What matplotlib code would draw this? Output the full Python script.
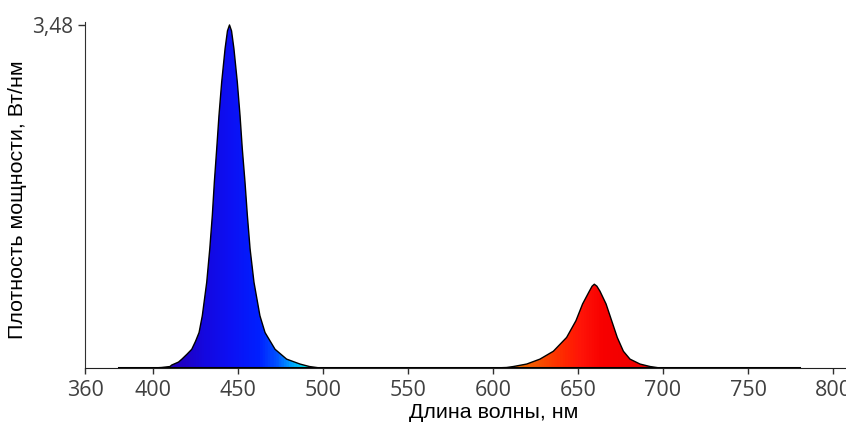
import numpy as np
import matplotlib
matplotlib.use("Agg")
import matplotlib.pyplot as plt
from matplotlib.colors import LinearSegmentedColormap
from matplotlib.patches import Polygon

# spectrum (nm, W/nm)
blue_nm = [380, 400, 405, 410, 411, 415, 417, 420, 422.8, 425, 427.1, 429, 431.6,
           433.4, 434.9, 436.1, 437.5, 438.8, 440.4, 442.4, 443.8, 445, 446.2,
           447.6, 449.6, 451.2, 452.5, 454.1, 455.5, 457.1, 459.4, 462.9, 465.9,
           471.8, 478.6, 486.5, 492, 497, 500]
blue_val = [0, 0, 0.005, 0.015, 0.03, 0.06, 0.09, 0.14, 0.19, 0.27, 0.36, 0.53, 0.87,
            1.21, 1.55, 1.89, 2.23, 2.56, 2.90, 3.24, 3.42, 3.48, 3.42,
            3.24, 2.90, 2.56, 2.23, 1.89, 1.55, 1.21, 0.87, 0.53, 0.36,
            0.19, 0.09, 0.04, 0.015, 0.003, 0]

red_nm = [600, 608, 612, 619.8, 627.6, 635.5, 643.3, 648.8, 652.7, 656.7, 658.3,
          659.6, 661.1, 662.9, 666.5, 669.8, 673.1, 676.7, 680.6, 686.5, 692.4,
          697, 702, 780]
red_val = [0, 0.005, 0.015, 0.04, 0.09, 0.17, 0.31, 0.48, 0.65, 0.78, 0.83,
           0.85, 0.83, 0.78, 0.65, 0.48, 0.31, 0.17, 0.09, 0.04, 0.015,
           0.003, 0, 0]

xticks = [360, 400, 450, 500, 550, 600, 650, 700, 750, 800]
y_max = 3.48

wl = np.array(blue_nm + red_nm)
val = np.array(blue_val + red_val)

# colour of the fill along the wavelength
stops = [(380, "#300098"), (415, "#2000c0"), (430, "#1408e0"), (445, "#0c10f4"),
         (462, "#0020ff"), (472, "#0050ff"), (480, "#0098ff"), (488, "#00d8f0"),
         (495, "#20ffc8"), (500, "#40ff80"), (560, "#c0ff00"), (600, "#ff9000"),
         (615, "#f07000"), (630, "#f84800"), (642, "#ff2800"), (652, "#ff1408"),
         (665, "#f80000"), (700, "#e80000"), (780, "#c00000")]
lo, hi = 380, 780
spec = LinearSegmentedColormap.from_list(
    "spec", [((w - lo) / (hi - lo), c) for w, c in stops])

fig = plt.figure(figsize=(8.46, 4.25), dpi=100)
ax = fig.add_axes([85 / 846, 57 / 425, 761 / 846, 346 / 425])

grad = np.linspace(lo, hi, 800)[None, :]
im = ax.imshow(grad, cmap=spec, vmin=lo, vmax=hi, extent=[lo, hi, 0, 3.6],
               aspect="auto", origin="lower", zorder=1)
patch = Polygon(list(zip(wl, val)), closed=True, facecolor="none",
                edgecolor="none", transform=ax.transData)
ax.add_patch(patch)
im.set_clip_path(patch)

ax.plot(wl, val, color="black", lw=1.0, zorder=3)
ax.plot([lo, hi], [0, 0], color="black", lw=2.2, zorder=3)

ax.set_xlim(360, 360 + 761 / 1.7)
ax.set_ylim(0, 3.51)

ax.spines["top"].set_visible(False)
ax.spines["right"].set_visible(False)
ax.spines["left"].set_color("#303030")
ax.spines["bottom"].set_color("#202020")

ax.set_xticks(xticks)
ax.set_xticklabels([str(t) for t in xticks], family="Open Sans", fontsize=15.5,
                   color="#404040")
ax.set_yticks([y_max])
ax.set_yticklabels(["3,48"], family="Open Sans", fontsize=15, color="#404040")
ax.tick_params(axis="x", direction="out", length=4, width=1, pad=5, color="#303030")
ax.tick_params(axis="y", direction="out", length=5, width=1, pad=3.5, color="#303030")

ax.set_xlabel("Длина волны, нм", family="Liberation Sans", fontsize=15.4)
ax.xaxis.set_label_coords((494 - 85) / 761, -0.102)
ax.set_ylabel("Плотность мощности, Вт/нм", family="Liberation Sans", fontsize=15.4)
ax.yaxis.set_label_coords(-0.076, 0.486)

fig.savefig("out.png", dpi=100)
